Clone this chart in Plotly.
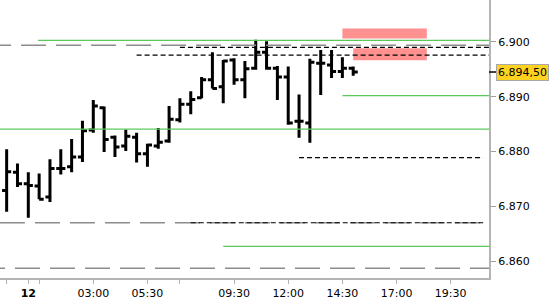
import plotly.graph_objects as go

# ---- data (hours relative to 00:00 of day 12, prices) ----
bar_time = [-1.0, -0.5, 0.0, 0.5, 1.0, 1.5, 2.0, 2.5, 3.0, 3.5, 4.0, 4.5, 5.0, 5.5, 6.0, 6.5,
            7.0, 7.5, 8.0, 8.5, 9.0, 9.5, 10.0, 10.5, 11.0, 11.5, 12.0, 12.5, 13.0, 13.5, 14.0, 14.5, 15.0]
bar_open = [6872.9, 6876.2, 6874.1, 6873.7, 6871.7, 6876.9, 6877.2, 6879.0, 6883.9, 6888.0, 6882.6,
            6881.0, 6882.6, 6879.6, 6881.0, 6881.9, 6885.8, 6888.6, 6889.8, 6893.1, 6891.8, 6896.7,
            6893.1, 6895.2, 6898.1, 6895.2, 6893.6, 6885.5, 6885.2, 6896.1, 6895.8, 6894.6, 6895.2]
bar_high = [6880.4, 6877.8, 6876.2, 6876.0, 6878.6, 6880.4, 6882.3, 6885.6, 6889.4, 6888.2, 6882.9,
            6884.0, 6883.4, 6881.4, 6884.3, 6888.3, 6889.7, 6891.0, 6893.6, 6898.1, 6896.7, 6897.0,
            6896.5, 6900.4, 6900.1, 6895.6, 6895.5, 6890.4, 6896.9, 6898.5, 6898.5, 6897.2, 6895.5]
bar_low = [6869.0, 6873.5, 6867.9, 6871.3, 6870.8, 6875.8, 6876.2, 6878.1, 6883.4, 6879.9, 6879.0,
           6880.1, 6878.0, 6877.2, 6880.5, 6881.6, 6885.3, 6886.8, 6889.7, 6891.5, 6888.8, 6892.2,
           6889.7, 6894.9, 6894.9, 6889.4, 6884.9, 6882.5, 6881.6, 6890.3, 6893.4, 6893.4, 6893.8]
bar_close = [6876.3, 6874.1, 6873.8, 6871.3, 6876.9, 6876.9, 6879.0, 6883.8, 6888.3, 6882.2, 6880.8,
             6882.8, 6879.6, 6881.2, 6881.7, 6885.9, 6888.6, 6889.5, 6893.1, 6891.5, 6896.5, 6893.1,
             6895.1, 6898.1, 6895.2, 6893.6, 6885.2, 6885.5, 6896.3, 6896.1, 6894.6, 6895.2, 6894.5]

# horizontal levels: value, start hour, end hour
level_value = [6899.4, 6900.27, 6899.0, 6897.57, 6890.2, 6884.08, 6878.9, 6867.0, 6867.0, 6862.68, 6858.7]
level_start = [-1.95, 0.45, 7.0, 5.0, 14.5, -1.4, 12.5, -1.31, 7.5, 9.0, -2.23]
level_end = [22.0, 22.0, 22.0, 22.0, 22.0, 22.0, 21.0, 22.0, 21.0, 22.0, 22.0]
level_kind = ["gray", "green", "black", "black", "green", "green", "black", "gray", "black", "green", "gray"]

# zones (start hour, end hour, low, high)
zone_x0 = [14.5, 15.0]
zone_x1 = [18.4, 18.4]
zone_y0 = [6900.63, 6896.67]
zone_y1 = [6902.43, 6898.83]

tick_hours = [-1.0, 0.0, 0.5, 3.0, 5.5, 7.0, 9.5, 12.0, 14.5, 17.0, 19.5]
tick_labels = ["", "<b>12</b>", "", "03:00", "05:30", "", "09:30", "12:00", "14:30", "17:00", "19:30"]
price_ticks = [6860, 6870, 6880, 6890, 6900]
price_labels = ["6.860", "6.870", "6.880", "6.890", "6.900"]
last_price = 6894.5
last_label = "6.894,50"

styles = {
    "gray": dict(color="#8c8c8c", width=1.5, dash="25px,10px"),
    "green": dict(color="#5cc85c", width=1.3),
    "black": dict(color="#000000", width=1.2, dash="5px,3px"),
}

fig = go.Figure()

for v, a, b, k in zip(level_value, level_start, level_end, level_kind):
    fig.add_trace(go.Scatter(x=[a, b], y=[v, v], mode="lines", line=styles[k],
                             hoverinfo="skip", showlegend=False))

fig.add_trace(go.Ohlc(
    x=bar_time, open=bar_open, high=bar_high, low=bar_low, close=bar_close,
    increasing=dict(line=dict(color="black", width=3)),
    decreasing=dict(line=dict(color="black", width=3)),
    tickwidth=0.42, showlegend=False, hoverinfo="skip",
))

for x0, x1, y0, y1 in zip(zone_x0, zone_x1, zone_y0, zone_y1):
    fig.add_shape(type="rect", xref="x", yref="y", x0=x0, x1=x1, y0=y0, y1=y1,
                  fillcolor="#ff9191", line=dict(width=0), layer="below")

fig.add_shape(type="line", xref="paper", yref="y", x0=1, x1=1 + 7 / 489,
              y0=last_price, y1=last_price, line=dict(color="black", width=1.5))
fig.add_annotation(xref="paper", yref="y", x=1, y=last_price, xanchor="left", yanchor="middle",
                   xshift=7, text=last_label, showarrow=False,
                   font=dict(family="DejaVu Sans", size=11, color="black"),
                   bgcolor="#ffd21f", bordercolor="#a8a8a8", borderwidth=1, borderpad=1)

fig.update_layout(
    width=550, height=300,
    margin=dict(l=0, r=61, t=0, b=18),
    paper_bgcolor="white", plot_bgcolor="white",
    font=dict(family="DejaVu Sans", size=11, color="black"),
    xaxis=dict(range=[-1.307, 21.27], tickvals=tick_hours, ticktext=tick_labels,
               showgrid=False, zeroline=False, showline=True, linecolor="#b4b4b4", linewidth=2,
               ticks="outside", ticklen=4, tickcolor="#b4b4b4", rangeslider=dict(visible=False),
               tickfont=dict(size=11)),
    yaxis=dict(range=[6856.92, 6907.64], side="right", tickvals=price_ticks, ticktext=price_labels,
               showgrid=False, zeroline=False, showline=True, linecolor="#b4b4b4", linewidth=2,
               ticks="outside", ticklen=5, tickcolor="#a0a0a0", tickfont=dict(size=11)),
)

fig.write_html("out.html")
